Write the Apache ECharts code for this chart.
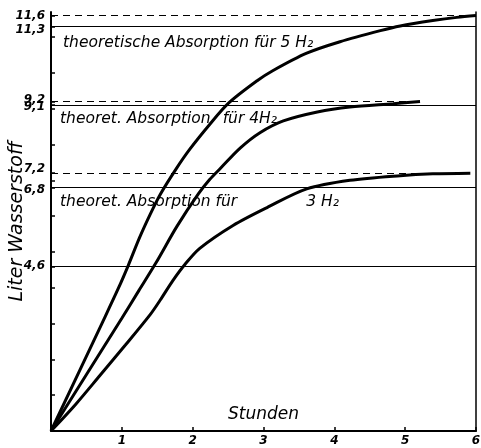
<!DOCTYPE html>
<html>
<head>
<meta charset="utf-8">
<script src="https://cdn.jsdelivr.net/npm/echarts@6/dist/echarts.min.js"></script>
<style>
  html, body { margin: 0; padding: 0; background: #ffffff; }
  #chart { width: 481px; height: 448px; }
</style>
</head>
<body>
<div id="chart"></div>
<script>
// Absorption curves (hours vs litres of hydrogen)
const hours5H2  = [0, 0.73, 0.95, 1.09, 1.25, 1.40, 1.54, 1.76, 1.96, 2.24, 2.51, 2.91, 3.13, 3.61, 4.08, 4.65, 4.93, 5.39, 5.73, 6.0];
const liters5H2 = [0, 3.05, 3.98, 4.62, 5.40, 6.05, 6.60, 7.30, 7.87, 8.56, 9.16, 9.78, 10.06, 10.55, 10.87, 11.18, 11.31, 11.46, 11.55, 11.6];

const hours4H2  = [0, 1.0, 1.24, 1.48, 1.78, 2.08, 2.24, 2.39, 2.67, 2.95, 3.28, 3.76, 4.22, 4.83, 5.21];
const liters4H2 = [0, 3.15, 3.92, 4.69, 5.72, 6.62, 7.02, 7.33, 7.90, 8.33, 8.66, 8.91, 9.05, 9.14, 9.2];

const hours3H2  = [0, 0.35, 0.69, 1.05, 1.40, 1.54, 1.72, 1.89, 2.10, 2.57, 3.05, 3.61, 4.22, 4.93, 5.39, 5.92];
const liters3H2 = [0, 0.75, 1.55, 2.40, 3.25, 3.65, 4.20, 4.65, 5.10, 5.74, 6.24, 6.76, 7.0, 7.13, 7.18, 7.2];

// Reference levels
const theoreticalLevels = [11.3, 9.1, 6.8];
const theoreticalLabels = [
  '{t|theoretische Absorption für 5 H₂}',
  '{t|theoret. Absorption}{g1|für 4H₂}',
  '{t|theoret. Absorption für}{g2|3 H₂}'
];
const measuredLevels = [11.6, 9.2, 7.2];
const extraLevel = 4.6;

// Axis ticks / labels
const yLabelValues = [4.6, 6.8, 7.2, 9.1, 9.2, 11.3, 11.6];
const yTickValues = [1, 2, 3, 4, 5, 6, 7, 8, 9, 10, 11, 4.6, 6.8, 7.2, 9.1, 9.2, 11.3, 11.6];
const xMax = 6;

const curveHours = [hours5H2, hours4H2, hours3H2];
const curveLiters = [liters5H2, liters4H2, liters3H2];

function pairs(xs, ys) { return xs.map((x, i) => [x, ys[i]]); }

const font = 'DejaVu Sans';
const chart = echarts.init(document.getElementById('chart'), null, { renderer: 'canvas' });

const textStyle = { color: '#000', fontFamily: font, fontStyle: 'italic', fontSize: 15.5 };
const labelRichText = {
  t: Object.assign({}, textStyle),
  g1: Object.assign({ padding: [0, 0, 0, 12] }, textStyle),
  g2: Object.assign({ padding: [0, 0, 0, 69] }, textStyle)
};
const labelDist = [[12, 9], [9, 6], [9, 6]];

const series = curveHours.map((hs, k) => {
  const endHour = hs[hs.length - 1];
  return {
    type: 'line',
    data: pairs(hs, curveLiters[k]),
    smooth: 0.3,
    showSymbol: false,
    symbol: 'none',
    lineStyle: { color: '#000', width: 3 },
    z: 5,
    markLine: {
      silent: true,
      symbol: 'none',
      animation: false,
      data: [
        [
          { coord: [0, measuredLevels[k]], lineStyle: { type: [7, 5], width: 1, color: '#000' }, label: { show: false } },
          { coord: [endHour, measuredLevels[k]] }
        ],
        [
          { coord: [0, theoreticalLevels[k]], lineStyle: { type: 'solid', width: 1, color: '#000' },
            label: Object.assign({
              show: true,
              formatter: theoreticalLabels[k],
              position: 'insideStartBottom',
              distance: labelDist[k],
              rich: labelRichText
            }, textStyle) },
          { coord: [xMax, theoreticalLevels[k]] }
        ]
      ]
    }
  };
});

series.push({
  type: 'line',
  data: [],
  markLine: {
    silent: true,
    symbol: 'none',
    animation: false,
    label: { show: false },
    lineStyle: { type: 'solid', width: 1, color: '#000' },
    data: [[{ coord: [0, extraLevel] }, { coord: [xMax, extraLevel] }]]
  }
});

// small vertical nudges of the y labels, as printed in the original
const labelRich = {
  dn4: { padding: [8, 0, 0, 0] },
  dn2: { padding: [4, 0, 0, 0] },
  up2: { padding: [0, 0, 4, 0] },
  up4: { padding: [0, 0, 8, 0] },
  n: {}
};
const labelNudge = { '11.3': 'dn4', '9.2': 'up2', '9.1': 'dn2', '7.2': 'up4', '6.8': 'dn2' };
const labelStyleBase = { color: '#000', fontFamily: font, fontStyle: 'italic', fontWeight: 'bold', fontSize: 12 };
Object.keys(labelRich).forEach(k => Object.assign(labelRich[k], labelStyleBase));

chart.setOption({
  animation: false,
  backgroundColor: '#ffffff',
  grid: { left: 51, right: 5, top: 12, bottom: 17, containLabel: false, outerBoundsMode: 'none' },
  xAxis: {
    type: 'value',
    min: 0, max: xMax, interval: 1,
    name: 'Stunden',
    nameLocation: 'middle',
    nameGap: -16,
    nameMoveOverlap: false,
    nameTextStyle: { fontFamily: font, fontStyle: 'italic', fontSize: 17, color: '#000', verticalAlign: 'middle' },
    axisLine: { show: true, onZero: false, lineStyle: { color: '#000', width: 2 } },
    axisTick: { show: true, inside: true, length: 4, lineStyle: { color: '#000', width: 1.5 } },
    axisLabel: {
      formatter: v => (v === 0 ? '' : String(v)),
      color: '#000', fontFamily: font, fontStyle: 'italic', fontWeight: 'bold', fontSize: 12, margin: 4
    },
    splitLine: { show: false }
  },
  yAxis: [
    {
      type: 'value',
      min: 0, max: 11.7,
      name: 'Liter Wasserstoff',
      nameLocation: 'middle',
      nameGap: 24,
      nameRotate: 90,
      nameMoveOverlap: false,
      nameTextStyle: { fontFamily: font, fontStyle: 'italic', fontSize: 19, color: '#000' },
      axisLine: { show: true, onZero: false, lineStyle: { color: '#000', width: 2 } },
      axisTick: { show: true, inside: true, length: 4, customValues: yTickValues, lineStyle: { color: '#000', width: 1.5 } },
      axisLabel: {
        customValues: yLabelValues,
        hideOverlap: false,
        showMinLabel: true,
        showMaxLabel: true,
        formatter: v => {
          const key = labelNudge[String(v)] || 'n';
          return '{' + key + '|' + String(v).replace('.', ',') + '}';
        },
        rich: labelRich,
        color: '#000', fontFamily: font, fontStyle: 'italic', fontWeight: 'bold', fontSize: 12, margin: 6
      },
      splitLine: { show: false }
    },
    {
      type: 'value',
      min: 0, max: 11.7,
      position: 'right',
      axisLine: { show: true, onZero: false, lineStyle: { color: '#000', width: 1.5 } },
      axisTick: { show: false },
      axisLabel: { show: false },
      splitLine: { show: false }
    }
  ],
  series: series
});
</script>
</body>
</html>
